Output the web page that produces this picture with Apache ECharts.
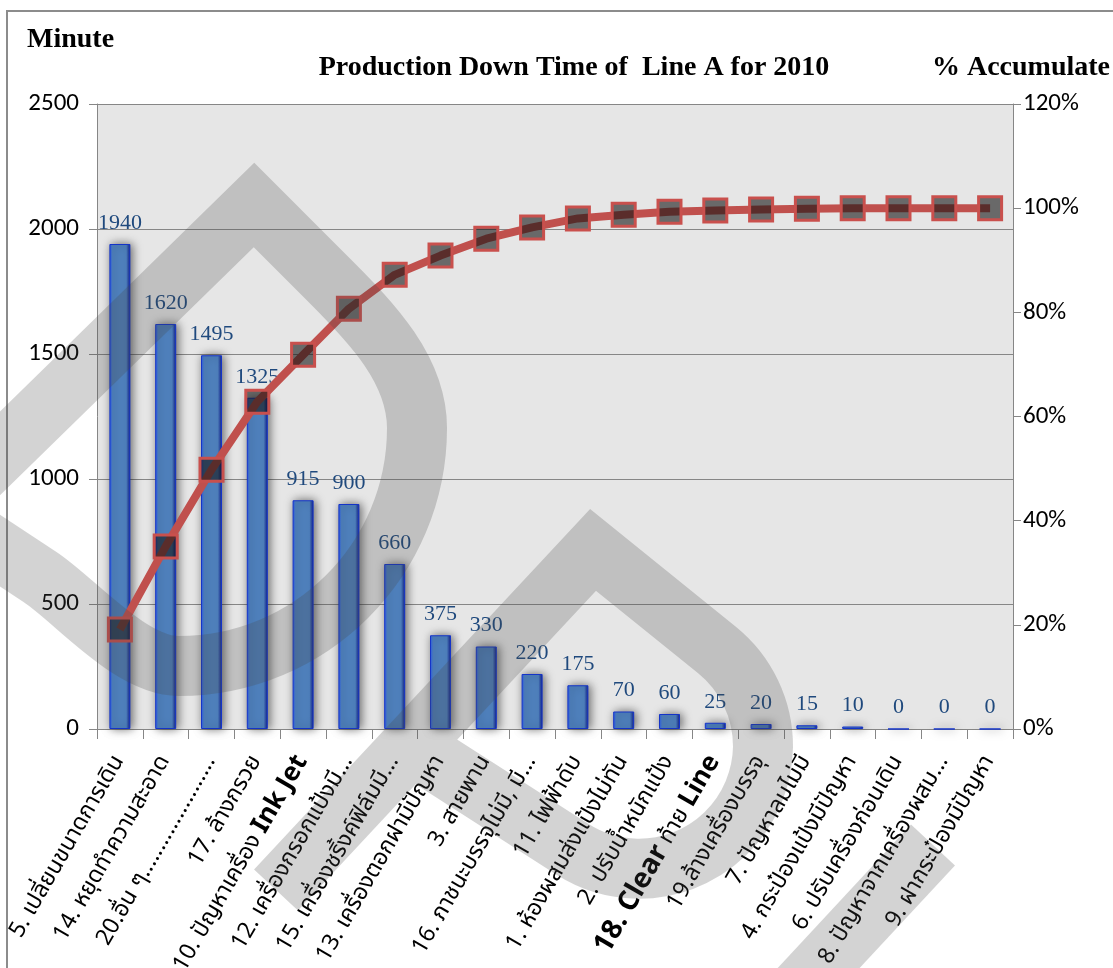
<!DOCTYPE html>
<html>
<head>
<meta charset="utf-8">
<title>Production Down Time of Line A for 2010</title>
<script src="https://cdn.jsdelivr.net/npm/echarts@6/dist/echarts.min.js"></script>
<style>
  html, body { margin: 0; padding: 0; background: #ffffff; }
  #chart { width: 1113px; height: 968px; }
</style>
</head>
<body>
<div id="chart"></div>
<script>
// Down-time causes, sorted from largest to smallest (Pareto order)
const categories = [
  '5. เปลี่ยนขนาดการเดิน',
  '14. หยุดทำความสะอาด',
  '20.อื่น ๆ......................',
  '17. ล้างกรวย',
  '10. ปัญหาเครื่อง Ink Jet',
  '12. เครื่องกรอกแป้งมี...',
  '15. เครื่องชริ้งค์ฟิล์มมี...',
  '13. เครื่องตอกฝามีปัญหา',
  '3. สายพาน',
  '16. ภาชนะบรรจุไม่มี, มี...',
  '11. ไฟฟ้าดับ',
  '1. ห้องผสมส่งแป้งไม่ทัน',
  '2. ปรับน้ำหนักแป้ง',
  '18. Clear ท้าย Line',
  '19.ล้างเครื่องบรรจุ',
  '7. ปัญหาลมไม่มี',
  '4. กระป๋องแป้งมีปัญหา',
  '6. ปรับเครื่องก่อนเดิน',
  '8. ปัญหาจากเครื่องผสม...',
  '9. ฝากระป๋องมีปัญหา'
];

// Minutes lost per cause
const downtimeMinutes = [1940, 1620, 1495, 1325, 915, 900, 660, 375, 330, 220, 175, 70, 60, 25, 20, 15, 10, 0, 0, 0];

// Running share of the total down time, in percent
const cumulativePercent = [19.10, 35.06, 49.78, 62.83, 71.84, 80.70, 87.20, 90.89, 94.14, 96.31,
                           98.03, 98.72, 99.31, 99.56, 99.75, 99.90, 100, 100, 100, 100];

// Axis ranges
const minuteRange = { min: 0, max: 2500, step: 500 };
const percentRange = { min: 0, max: 120, step: 20 };

const thaiFont = "Tahoma, 'Noto Sans Thai', 'Noto Sans Thai UI', Loma, Garuda, 'DejaVu Sans', sans-serif";
const serifFont = "'Times New Roman', 'Liberation Serif', serif";
const numFont = "Calibri, Carlito, Lato, sans-serif";
const axisGray = '#868686';

// Some cause names carry bold words
function causeLabel(name) {
  return name
    .replace('18. Clear', '{big|18. Clear}')
    .replace('Ink Jet', '{bold|Ink Jet}')
    .replace(/Line$/, '{bold|Line}');
}

// Grey stamp laid over the whole sheet (stroked outlines in page pixels)
const stampPaths = [
  'M -60 512 L 254 205 L 330 281 C 372 323 417 370 417 428 C 417 560 310 666 179 666 C 130 666 75 600 40 577 L -60 511',
  'M 276 890 L 593 550 L 717 650 A 124 124 0 0 1 763 747 A 124 124 0 0 1 572 849 L 393 734',
  'M 933 845 L 775 1015'
];

const chart = echarts.init(document.getElementById('chart'), null, { renderer: 'canvas' });

const option = {
  animation: false,
  backgroundColor: '#ffffff',
  grid: {
    left: 97, right: 100, top: 104, bottom: 239,
    containLabel: false,
    outerBoundsMode: 'none',
    show: true, backgroundColor: '#e6e6e6', borderWidth: 0
  },
  xAxis: {
    type: 'category',
    data: categories,
    boundaryGap: true,
    axisLine: { show: true, lineStyle: { color: axisGray, width: 1 } },
    axisTick: { show: true, interval: 0, length: 10, lineStyle: { color: axisGray } },
    axisLabel: {
      interval: 0,
      rotate: 60,
      margin: 29,
      color: '#000000',
      fontFamily: thaiFont,
      fontSize: 23,
      formatter: causeLabel,
      rich: {
        bold: { fontFamily: thaiFont, fontWeight: 'bold', fontSize: 26, color: '#000000' },
        big: { fontFamily: thaiFont, fontWeight: 'bold', fontSize: 28, color: '#000000' }
      }
    }
  },
  yAxis: [
    {
      type: 'value',
      position: 'left',
      min: minuteRange.min, max: minuteRange.max, interval: minuteRange.step,
      axisLine: { show: true, lineStyle: { color: axisGray } },
      axisTick: { show: true, length: 8, lineStyle: { color: axisGray } },
      axisLabel: {
        margin: 18, color: '#000000', fontFamily: numFont, fontSize: 25,
        formatter: function (v) { return String(v); }
      },
      splitLine: { show: true, lineStyle: { color: axisGray, width: 1 } }
    },
    {
      type: 'value',
      position: 'right',
      min: percentRange.min, max: percentRange.max, interval: percentRange.step,
      axisLine: { show: true, lineStyle: { color: axisGray } },
      axisTick: { show: true, length: 8, lineStyle: { color: axisGray } },
      axisLabel: { margin: 10, color: '#000000', fontFamily: numFont, fontSize: 25, formatter: '{value}%' },
      splitLine: { show: false }
    }
  ],
  series: [
    {
      name: 'Minute',
      type: 'bar',
      data: downtimeMinutes,
      barWidth: 21,
      z: 2,
      itemStyle: {
        color: {
          type: 'linear', x: 0, y: 0, x2: 1, y2: 0,
          colorStops: [
            { offset: 0, color: '#2a5cf5' },
            { offset: 0.15, color: '#4f81bd' },
            { offset: 0.8, color: '#4f81bd' },
            { offset: 1, color: '#0c1a8c' }
          ]
        },
        borderColor: '#1534c8',
        borderWidth: 1,
        shadowBlur: 10,
        shadowColor: 'rgba(0,0,0,0.55)',
        shadowOffsetX: 2,
        shadowOffsetY: 0
      },
      label: {
        show: true,
        position: 'top',
        distance: 10,
        color: '#1f497d',
        fontFamily: serifFont,
        fontSize: 22
      }
    },
    {
      name: '% Accumulate',
      type: 'line',
      yAxisIndex: 1,
      data: cumulativePercent,
      z: 5,
      symbol: 'rect',
      symbolSize: 23,
      lineStyle: { color: '#c0504d', width: 8 },
      itemStyle: { color: 'rgba(22,22,22,0.6)', borderColor: '#c9504d', borderWidth: 3 }
    },
    {
      name: 'stamp',
      type: 'custom',
      coordinateSystem: 'none',
      silent: true,
      z: 50,
      data: [0],
      renderItem: function () {
        return {
          type: 'group',
          children: stampPaths.map(function (d) {
            return {
              type: 'path',
              shape: { pathData: d },
              style: {
                fill: null,
                stroke: 'rgba(72,72,72,0.24)',
                lineWidth: 60,
                lineJoin: 'miter',
                miterLimit: 10,
                lineCap: 'butt'
              }
            };
          })
        };
      }
    }
  ],
  graphic: [
    {
      type: 'rect',
      silent: true,
      z: -1,
      shape: { x: 7, y: 11, width: 1200, height: 1100 },
      style: { fill: null, stroke: '#8c8c8c', lineWidth: 2 }
    },
    {
      type: 'text', x: 27, y: 40, silent: true,
      style: { text: 'Minute', font: "bold 28px " + serifFont, fill: '#000000', align: 'left', verticalAlign: 'middle' }
    },
    {
      type: 'text', x: 574, y: 68, silent: true,
      style: { text: 'Production Down Time of  Line A for 2010', font: "bold 28px " + serifFont, fill: '#000000', align: 'center', verticalAlign: 'middle' }
    },
    {
      type: 'text', x: 1110, y: 68, silent: true,
      style: { text: '% Accumulate', font: "bold 28px " + serifFont, fill: '#000000', align: 'right', verticalAlign: 'middle' }
    }
  ]
};

chart.setOption(option);
</script>
</body>
</html>
